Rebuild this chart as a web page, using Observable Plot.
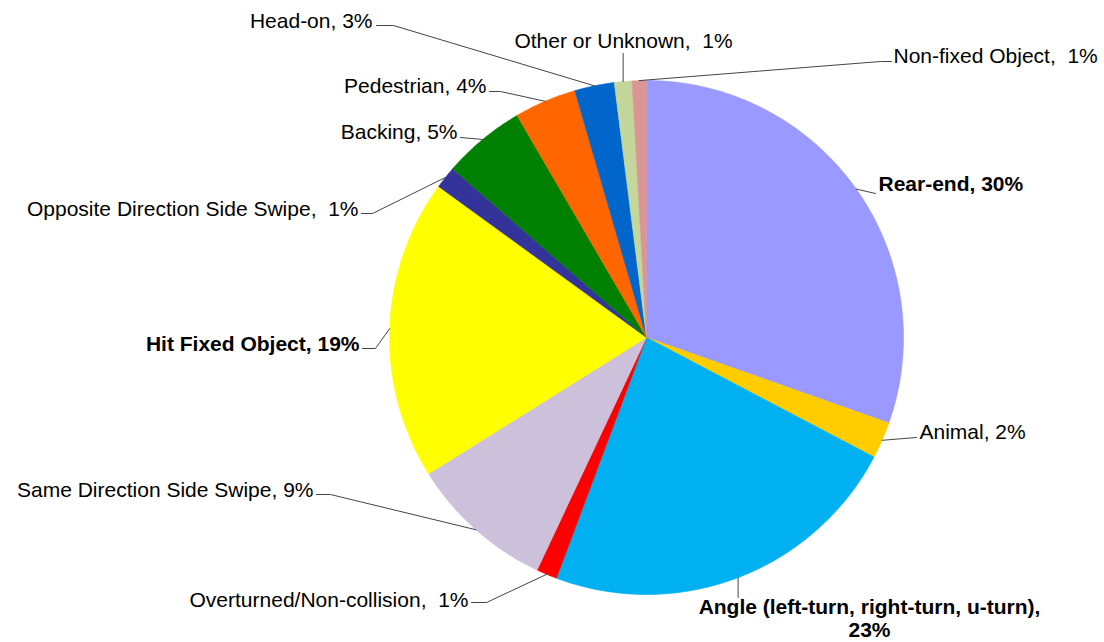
<!DOCTYPE html>
<html><head><meta charset="utf-8">
<script src="https://cdn.jsdelivr.net/npm/d3@7"></script>
<script src="https://cdn.jsdelivr.net/npm/@observablehq/plot@0.6"></script>
<style>body{margin:0;background:#fff} svg{display:block}</style>
</head><body><div id="chart"></div>
<script>
// ---- data ----
const categories = ["Rear-end","Animal","Angle (left-turn, right-turn, u-turn)","Overturned/Non-collision","Same Direction Side Swipe","Hit Fixed Object","Opposite Direction Side Swipe","Backing","Pedestrian","Head-on","Other or Unknown","Non-fixed Object"];
const shares = [30.4, 2.3, 23.0, 1.3, 9.1, 18.9, 1.4, 5.2, 3.9, 2.5, 1.1, 0.9];
const labels = ["Rear-end, 30%","Animal, 2%","Angle (left-turn, right-turn, u-turn),\n23%","Overturned/Non-collision,\u00a0 1%","Same Direction Side Swipe, 9%","Hit Fixed Object, 19%","Opposite Direction Side Swipe,\u00a0 1%","Backing, 5%","Pedestrian, 4%","Head-on, 3%","Other or Unknown,\u00a0 1%","Non-fixed Object,\u00a0 1%"];
const boldLabels = ["Rear-end","Hit Fixed Object","Angle (left-turn, right-turn, u-turn)"];
const colors = ["#9999FF","#FFCC00","#00B0F0","#FF0000","#CCC0DA","#FFFF00","#333399","#008000","#FF6600","#0066CC","#C4D79B","#DA9694"];

// ---- label layout (pixel positions of text anchor / leader elbows) ----
const CX = 646, CY = 337, R = 257;
const layout = {
  "Rear-end": {x: 878, y: 190, anchor: "start", pts: [[875,193]]},
  "Animal": {x: 919, y: 438, anchor: "start", pts: [[916,437]]},
  "Angle (left-turn, right-turn, u-turn)": {x: 869, y: 636, anchor: "middle", pts: [[null,597]]},
  "Overturned/Non-collision": {x: 468, y: 606, anchor: "end", pts: [[486,602],[471,602]]},
  "Same Direction Side Swipe": {x: 313, y: 496, anchor: "end", pts: [[330,494],[316,494]]},
  "Hit Fixed Object": {x: 359, y: 350, anchor: "end", pts: [[375,348],[362,348]]},
  "Opposite Direction Side Swipe": {x: 358, y: 215, anchor: "end", pts: [[372,213],[361,213]]},
  "Backing": {x: 457, y: 138, anchor: "end", pts: [[460,137]]},
  "Pedestrian": {x: 486, y: 92, anchor: "end", pts: [[500,91],[489,91]]},
  "Head-on": {x: 372, y: 27, anchor: "end", pts: [[393,25],[376,25]]},
  "Other or Unknown": {x: 623, y: 47, anchor: "middle", pts: [[null,53]]},
  "Non-fixed Object": {x: 893, y: 62, anchor: "start", pts: [[880,61],[891,61]]}
};
const ux = px => (px - CX) / R;
const uy = py => (CY - py) / R;

// ---- geometry from data ----
const arcs = d3.pie().sort(null).value(d => d)(shares);
const slicePts = [];
arcs.forEach((a, i) => {
  const name = categories[i];
  slicePts.push({name, x: 0, y: 0});
  const n = Math.max(2, Math.ceil((a.endAngle - a.startAngle) / 0.01));
  for (let k = 0; k <= n; k++) {
    const t = a.startAngle + (a.endAngle - a.startAngle) * k / n;
    slicePts.push({name, x: Math.sin(t), y: Math.cos(t)});
  }
});

const leaderPts = [];
const textRows = [];
arcs.forEach((a, i) => {
  const name = categories[i];
  const L = layout[name];
  const m = (a.startAngle + a.endAngle) / 2;
  const ex = Math.sin(m), ey = Math.cos(m);
  leaderPts.push({name, x: ex, y: ey});
  L.pts.forEach(([px, py]) => {
    leaderPts.push({name, x: px == null ? ex : ux(px), y: uy(py)});
  });
  textRows.push({name, text: labels[i], x: ux(L.x), y: uy(L.y), anchor: L.anchor, bold: boldLabels.includes(name)});
});

const font = "'Liberation Sans', Arial, Helvetica, sans-serif";
const textMarks = textRows.map(r => Plot.text([r], {
  x: "x", y: "y", text: "text", textAnchor: r.anchor, lineAnchor: "bottom",
  lineHeight: 1.05, fontSize: 21, fontWeight: r.bold ? "bold" : "normal",
  fill: "#000", fontFamily: font
}));

const chart = Plot.plot({
  width: 1104, height: 642,
  marginLeft: CX - R, marginRight: 1104 - (CX + R),
  marginTop: CY - R, marginBottom: 642 - (CY + R),
  x: {domain: [-1, 1], axis: null},
  y: {domain: [-1, 1], axis: null},
  color: {domain: categories, range: colors},
  style: {fontFamily: font, background: "#fff"},
  marks: [
    Plot.line(slicePts, {x: "x", y: "y", z: "name", fill: "name", stroke: "name", strokeWidth: 0.6, curve: "linear-closed"}),
    Plot.line(leaderPts, {x: "x", y: "y", z: "name", stroke: "#444", strokeWidth: 1}),
    ...textMarks
  ]
});
document.getElementById("chart").appendChild(chart);
</script>
</body></html>
